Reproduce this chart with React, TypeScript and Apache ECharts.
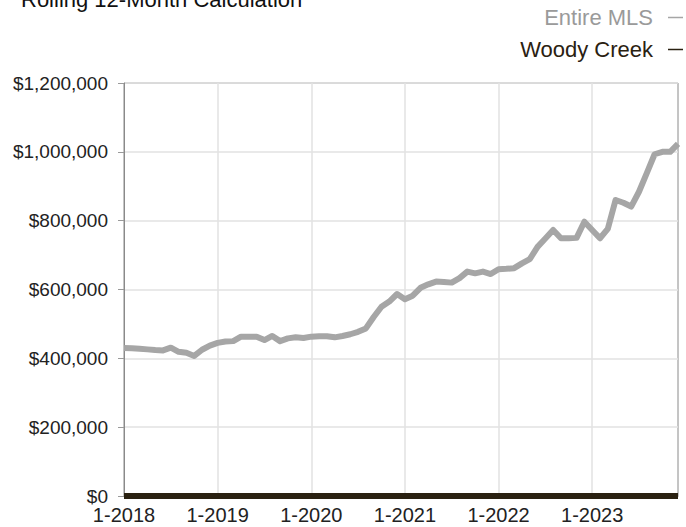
import React, { useEffect, useRef } from "react";
import * as echarts from "echarts";

// Month labels, Jan 2018 through Dec 2023
const months: string[] = [];
for (let y = 2018; y <= 2023; y++) {
  for (let m = 1; m <= 12; m++) months.push(`${m}-${y}`);
}

// Rolling 12-month median sale price, whole MLS
const entireMls: number[] = [
  430000, 429000, 428000, 426000, 424000, 423000, 431000, 419000, 416000, 407000, 425000, 437000,
  445000, 449000, 450000, 463000, 463000, 463000, 453000, 465000, 450000, 458000, 461000, 459000,
  463000, 464000, 464000, 461000, 465000, 470000, 477000, 487000, 520000, 550000, 565000, 587000,
  572000, 582000, 605000, 615000, 623000, 622000, 620000, 633000, 652000, 647000, 652000, 645000,
  659000, 660000, 662000, 676000, 688000, 724000, 748000, 773000, 749000, 749000, 750000, 797000,
  773000, 749000, 776000, 860000, 852000, 841000, 884000, 938000, 993000, 1000000, 1000000, 1023000,
];

// Woody Creek has no recorded sales in the period
const woodyCreek: number[] = months.map(() => 0);

const yTicks = { min: 0, max: 1200000, interval: 200000 };

const FONT = "'Liberation Sans', Arial, Helvetica, sans-serif";

export default function App() {
  const ref = useRef<HTMLDivElement>(null);

  useEffect(() => {
    if (!ref.current) return;
    const chart = echarts.init(ref.current, undefined, { renderer: "svg" });
    const yearStart = (i: number) => i % 12 === 0;
    chart.setOption({
      animation: false,
      backgroundColor: "#ffffff",
      textStyle: { fontFamily: FONT },
      title: {
        text: "Rolling 12-Month Calculation",
        left: 16,
        top: -17,
        textStyle: { fontSize: 22, fontWeight: "normal", color: "#111111", fontFamily: FONT },
      },
      legend: {
        orient: "vertical",
        right: -2,
        top: 1,
        align: "right",
        icon: "rect",
        itemWidth: 15,
        itemHeight: 1.5,
        itemGap: 9,
        selectedMode: false,
        textStyle: { fontSize: 22, lineHeight: 23, padding: [0, 10, 0, 0], fontFamily: FONT },
        data: [
          { name: "Entire MLS", textStyle: { color: "#9a9a9a" } },
          { name: "Woody Creek", textStyle: { color: "#2a2111" } },
        ],
      },
      grid: {
        left: 124,
        right: 8,
        top: 83,
        bottom: 31,
        show: true,
        borderColor: "#8a8a8a",
        borderWidth: 1,
      },
      xAxis: {
        type: "category",
        data: months,
        boundaryGap: false,
        axisLine: { show: true, lineStyle: { color: "#8a8a8a" } },
        axisTick: { show: false },
        axisLabel: {
          interval: (i: number) => yearStart(i),
          color: "#222222",
          fontSize: 20,
          margin: 9,
          fontFamily: FONT,
        },
        splitLine: {
          show: true,
          interval: (i: number) => yearStart(i) && i !== 0,
          lineStyle: { color: "#e2e2e2", width: 1.5 },
        },
      },
      yAxis: {
        type: "value",
        min: yTicks.min,
        max: yTicks.max,
        interval: yTicks.interval,
        axisLine: { show: true, lineStyle: { color: "#8a8a8a" } },
        axisTick: { show: true, length: 6, lineStyle: { color: "#9a9a9a" } },
        axisLabel: {
          color: "#222222",
          fontSize: 19,
          margin: 16,
          fontFamily: FONT,
          formatter: (v: number) => "$" + v.toLocaleString("en-US"),
        },
        splitLine: { show: true, lineStyle: { color: "#e2e2e2", width: 1.5 } },
      },
      series: [
        {
          name: "Entire MLS",
          type: "line",
          data: entireMls,
          showSymbol: false,
          symbol: "none",
          clip: false,
          lineStyle: { color: "#a6a6a6", width: 6, join: "round" },
          itemStyle: { color: "#a6a6a6" },
          z: 2,
        },
        {
          name: "Woody Creek",
          type: "line",
          data: woodyCreek,
          showSymbol: false,
          symbol: "none",
          clip: false,
          lineStyle: { color: "#2a2111", width: 6 },
          itemStyle: { color: "#2a2111" },
          z: 3,
        },
      ],
    });
    return () => chart.dispose();
  }, []);

  return (
    <div
      ref={ref}
      style={{ position: "fixed", left: 0, top: 0, width: 686, height: 527 }}
    />
  );
}
